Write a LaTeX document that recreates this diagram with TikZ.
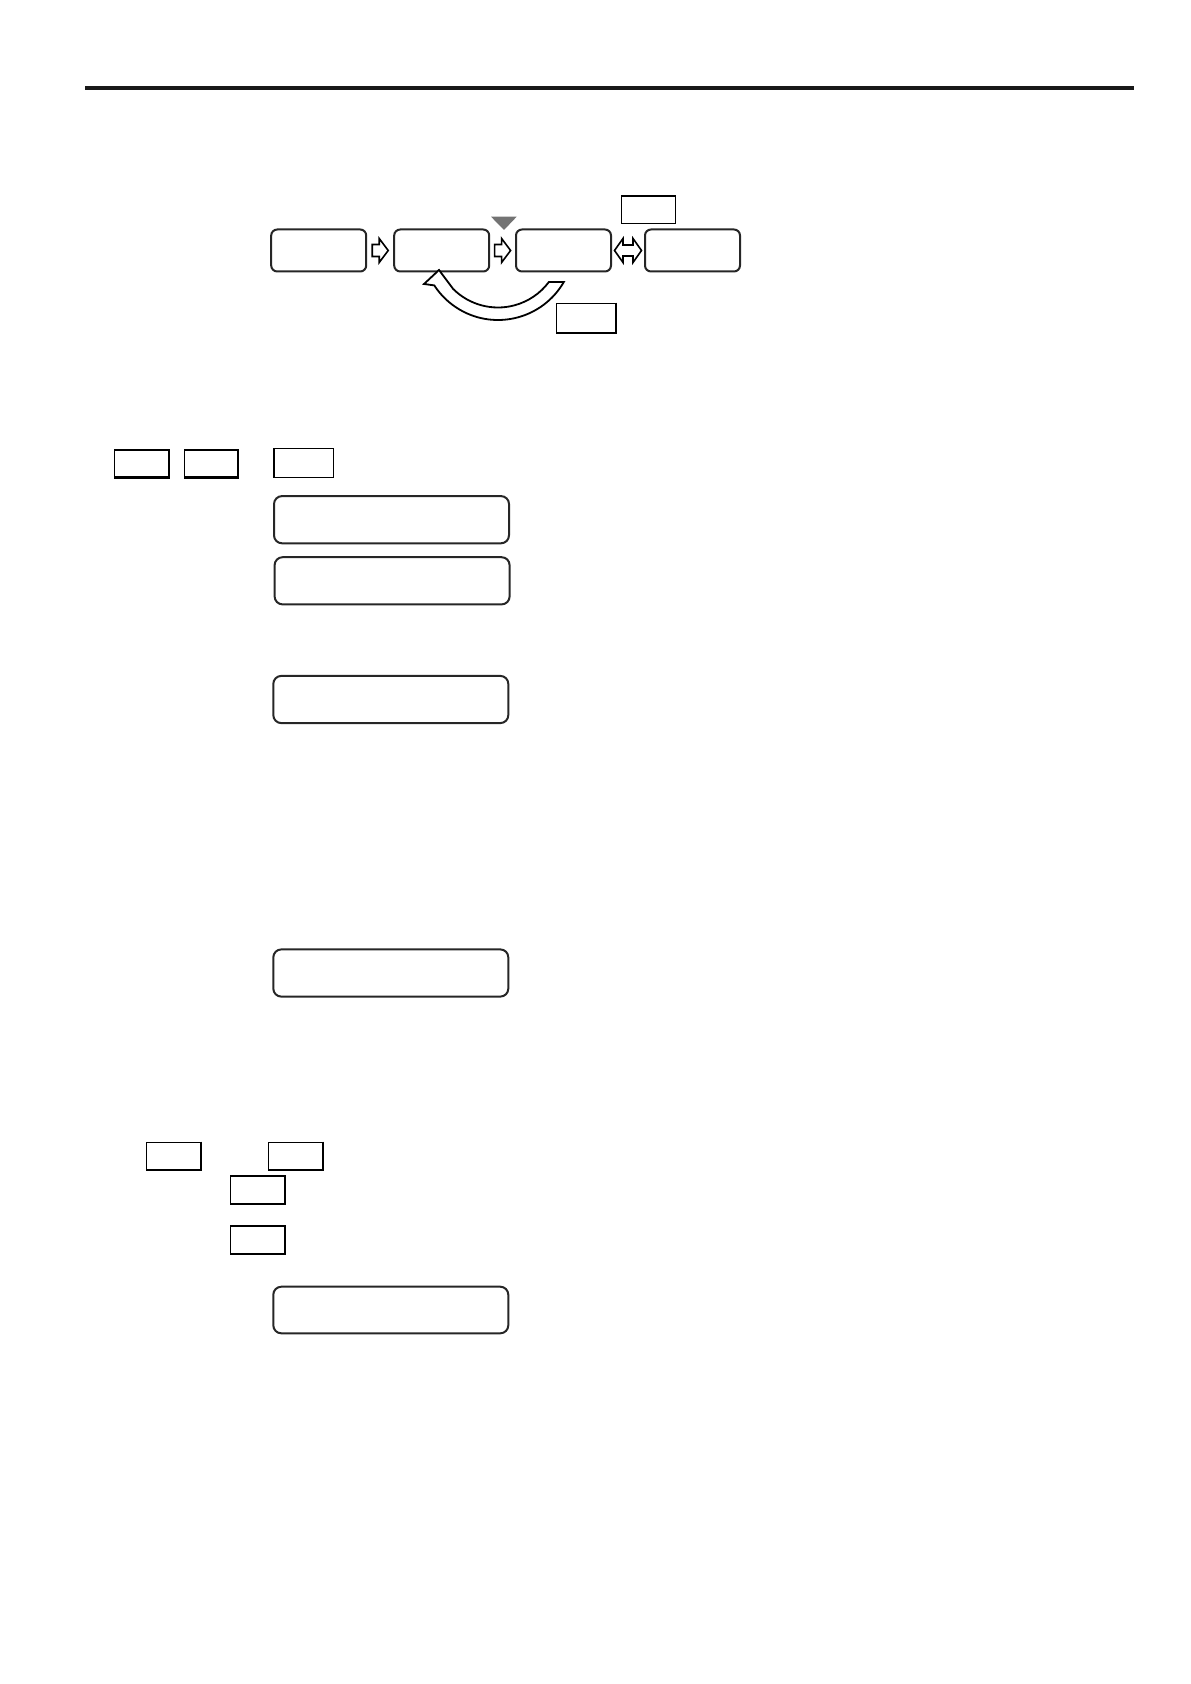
\documentclass[tikz,border=0pt]{standalone}
\usetikzlibrary{calc}
\tikzset{
  disp/.style={draw=black!85,line width=1pt,rounded corners=3pt,inner sep=0pt,minimum width=47.5pt,minimum height=21pt},
  lcd/.style={disp,rounded corners=4pt,minimum width=117.5pt,minimum height=23.6pt},
  key/.style={draw,line width=0.6pt,inner sep=0pt,minimum width=27pt,minimum height=13.5pt},
  fatarr/.pic={\draw[line width=0.8pt,fill=white](-8,-6)--(-1,-6)--(-1,-12)--(8,0)--(-1,12)--(-1,6)--(-8,6)--cycle;},
  fatdbl/.pic={\draw[line width=0.8pt,fill=white](-13.5,0)--(-5,-12)--(-5,-5.5)--(5,-5.5)--(5,-12)--(13.5,0)--(5,12)--(5,5.5)--(-5,5.5)--(-5,12)--cycle;}
}
\begin{document}
\begin{tikzpicture}[x=0.5pt,y=-0.5pt]
\useasboundingbox (0,0) rectangle (1190,1684);
\draw[line width=2pt,black!90](85,88)--(1134,88);
% screens
\node[disp](scr1) at (318.7,250.5){};
\node[disp](scr2) at (441.7,250.5){};
\node[disp](scr3) at (563.5,250.5){};
\node[disp](scr4) at (692.5,250.5){};
\pic at ($(scr1.east)!.5!(scr2.west)$){fatarr};
\pic at ($(scr2.east)!.5!(scr3.west)$){fatarr};
\pic at ($(scr3.east)!.5!(scr4.west)$){fatdbl};
\fill[black!55](491,216.7)--(516.7,216.7)--(504,230)--cycle;
\node[key,minimum width=27.2pt,minimum height=13.6pt](kup) at (648.5,209.6){};
\node[key,minimum width=29.2pt,minimum height=14.7pt](kdn) at (585.9,318){};
% return arrow
\coordinate (turn) at (498,244);
\draw[line width=0.9pt,fill=white]([shift={(30:76)}]turn) arc[start angle=30,end angle=147,radius=76]
  --([shift={(-74,40)}]turn)--([shift={(-59,26)}]turn)--([shift={(-44.9,44.9)}]turn)
  arc[start angle=135,end angle=36.7,radius=63.5]--cycle;
% keys
\node[key](r1) at (141.3,463.5){};
\node[key,minimum width=26.7pt](r2) at (211,463.5){};
\node[key,line width=0.8pt,minimum width=29.6pt,minimum height=14.5pt](r3) at (303.7,462.8){};
\node[lcd](lcd1) at (391.5,519.7){};
\node[lcd](lcd2) at (392.1,580.8){};
\node[lcd](lcd3) at (390.8,699.5){};
\node[lcd](lcd4) at (390.8,973){};
\node[key](s1) at (173.4,1155.8){};
\node[key](s2) at (295.3,1155.8){};
\node[key,minimum height=13.7pt](s3) at (257.2,1189.7){};
\node[key,minimum height=13.7pt](s4) at (257.2,1239.7){};
\node[lcd,minimum height=23.3pt](lcd5) at (390.8,1310){};
\foreach \k in {kdn,r1,r2,s1,s2,s3,s4}
  \draw[line width=1pt](\k.north east)--(\k.south east)--(\k.south west);
\end{tikzpicture}
\end{document}
